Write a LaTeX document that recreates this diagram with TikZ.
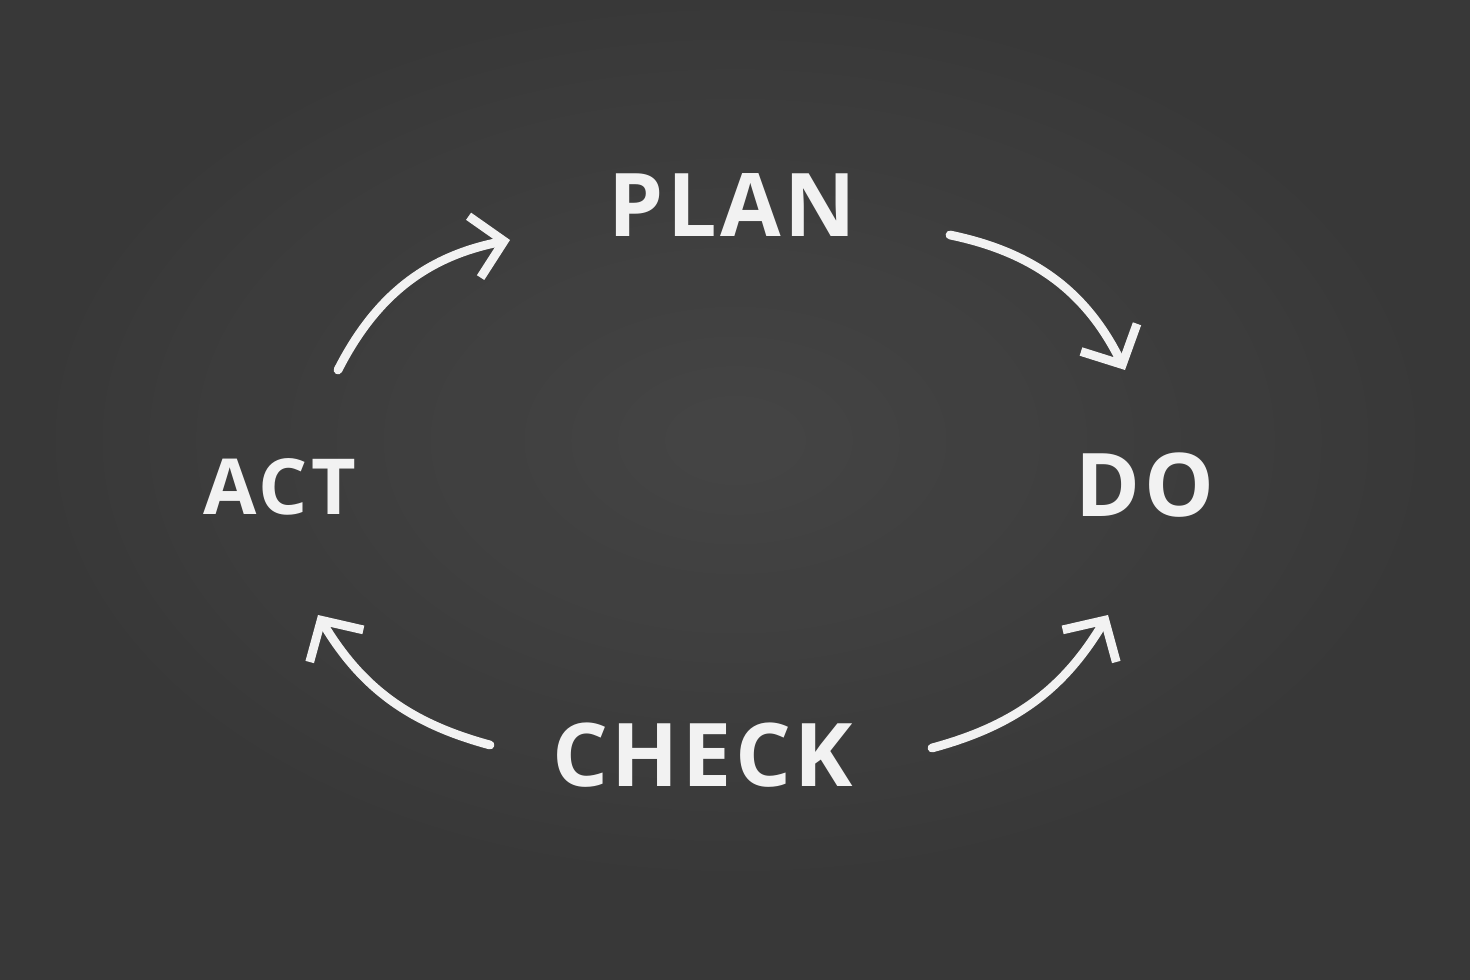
\documentclass[tikz,border=0pt]{standalone}
\usepackage{fontspec}
\usepackage{tikz}
\usepackage{xcolor}
\usetikzlibrary{arrows.meta}
\setmainfont{Open Sans}[LetterSpace=4]

\definecolor{board}{RGB}{56,56,56}
\definecolor{boardlight}{RGB}{72,72,72}
\definecolor{chalk}{RGB}{242,242,242}

\begin{document}
\begin{tikzpicture}[
  chalkword/.style={text=chalk, font=\bfseries\fontsize{50}{60}\selectfont, inner sep=0pt},
  chalkarrow/.style={draw=chalk, line width=5pt, line cap=round, line join=round,
    -{Straight Barb[length=6mm, width=12.5mm, line width=5pt]}}
]
\useasboundingbox (0,0) rectangle (29.4,19.6);
\fill[board] (0,0) rectangle (29.4,19.6);
\shade[inner color=boardlight, outer color=board, opacity=0.8] (14.7,10.8) ellipse (15 and 9.5);

\node[chalkword] (plan) at (14.65,15.5) {PLAN};
\node[chalkword] (do) at (22.9,9.9) {DO};
\node[chalkword, font=\bfseries\fontsize{44}{54}\selectfont] (act) at (5.6,9.86) {ACT};
\node[chalkword] (check) at (14.05,4.5) {CHECK};

\coordinate (actout) at (6.76,12.2);
\coordinate (planin) at (10.2,14.8);
\coordinate (planout) at (19.0,14.9);
\coordinate (doin) at (22.5,12.2);
\coordinate (checkright) at (18.64,4.64);
\coordinate (dolow) at (22.16,7.3);
\coordinate (checkleft) at (9.8,4.7);
\coordinate (actlow) at (6.36,7.3);

\draw[chalkarrow] (actout) to[bend left=26] (planin);
\draw[chalkarrow] (planout) to[bend left=26] (doin);
\draw[chalkarrow] (checkright) to[bend right=22] (dolow);
\draw[chalkarrow] (checkleft) to[bend left=22] (actlow);
\end{tikzpicture}
\end{document}
